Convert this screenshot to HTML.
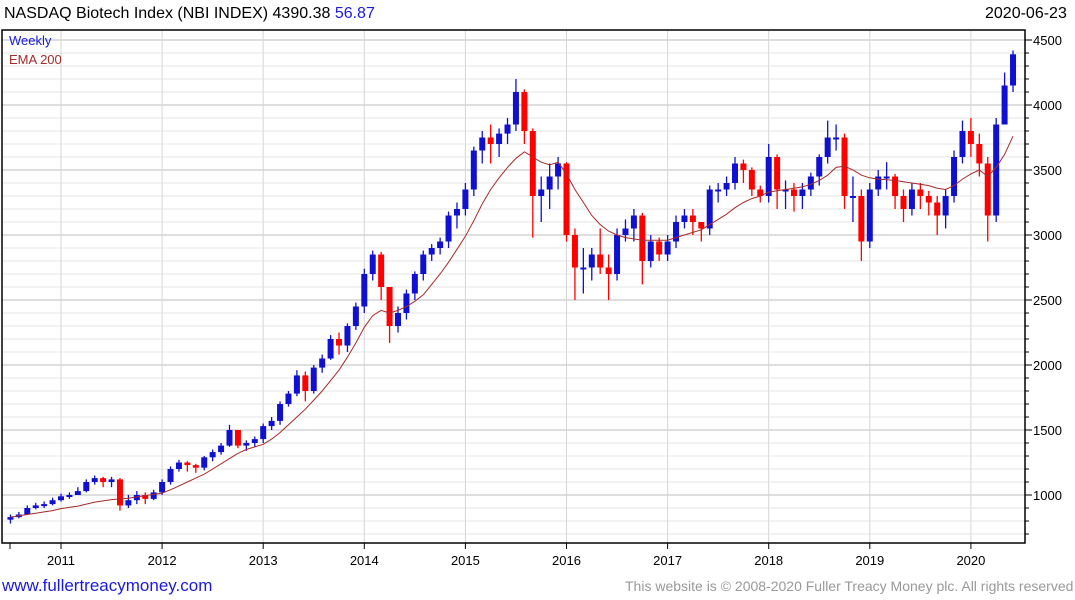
<!DOCTYPE html>
<html><head><meta charset="utf-8">
<style>
body{margin:0;background:#fff;font-family:"Liberation Sans",sans-serif;}
#wrap{position:relative;width:1075px;height:600px;overflow:hidden;}
.t{position:absolute;white-space:nowrap;}
</style></head>
<body>
<div id="wrap">
<div class="t" style="left:4px;top:5px;font-size:16px;color:#000">NASDAQ Biotech Index (NBI INDEX) 4390.38 <span style="color:#1a1adf">56.87</span></div>
<div class="t" style="left:985px;top:5px;font-size:16px;color:#000">2020-06-23</div>
<div class="t" style="left:2px;top:576px;font-size:17px;color:#1a1adf">www.fullertreacymoney.com</div>
<div class="t" style="left:625px;top:578px;font-size:14px;color:#999">This website is © 2008-2020 Fuller Treacy Money plc. All rights reserved</div>
<svg id="chart" width="1075" height="600" style="position:absolute;left:0;top:0"></svg>
</div>
<script>
const years=["2011","2012","2013","2014","2015","2016","2017","2018","2019","2020"];
const yTicks=[1000,1500,2000,2500,3000,3500,4000,4500];
const closes=[830,850,900,920,930,960,
990,1000,1030,1100,1130,1100,1120,920,960,1000,970,1020,
1100,1200,1250,1230,1210,1290,1330,1380,1500,1380,1400,1430,
1530,1570,1700,1780,1920,1800,1980,2050,2200,2150,2300,2450,
2700,2850,2600,2300,2400,2550,2700,2850,2900,2950,3150,3200,
3350,3650,3750,3700,3780,3850,4100,3800,3300,3350,3450,3550,
3000,2750,2750,2850,2750,2700,3000,3050,3150,2800,2950,2850,
2950,3100,3150,3100,3050,3350,3350,3400,3550,3500,3350,3300,
3600,3350,3350,3300,3350,3450,3600,3750,3750,3300,3300,2950,
3350,3450,3450,3300,3200,3350,3300,3250,3150,3300,3600,3800,
3700,3550,3150,3850,4150,4390];
const highs=[850,870,920,940,950,980,
1010,1020,1060,1120,1150,1140,1140,1130,1000,1030,1020,1040,
1120,1220,1270,1260,1240,1300,1350,1400,1540,1500,1420,1450,
1550,1600,1720,1800,1960,1950,2000,2080,2230,2250,2320,2480,
2740,2880,2870,2500,2450,2580,2720,2880,2930,2980,3180,3250,
3400,3680,3800,3850,3820,3900,4200,4120,3820,3450,3550,3600,
3560,3050,2900,2900,3050,2850,3050,3120,3200,3170,3000,2980,
3000,3150,3200,3200,3100,3380,3400,3450,3600,3580,3520,3380,
3700,3620,3420,3400,3400,3480,3620,3880,3850,3780,3450,3350,
3400,3500,3560,3470,3350,3400,3400,3340,3300,3350,3650,3880,
3900,3780,3600,3900,4250,4420];
const lows=[780,820,860,890,900,920,
950,970,1000,1020,1080,1060,1060,880,900,930,930,960,
1000,1080,1180,1180,1170,1190,1260,1310,1370,1360,1340,1370,
1400,1500,1540,1680,1760,1720,1780,1940,2040,2080,2100,2270,
2400,2650,2500,2170,2250,2350,2500,2650,2800,2850,2900,3050,
3150,3300,3550,3550,3600,3700,3800,3700,2980,3100,3200,3350,
2950,2500,2550,2650,2700,2500,2650,2950,2950,2620,2750,2800,
2800,2900,3050,3000,2950,3000,3250,3300,3350,3400,3300,3250,
3250,3200,3200,3180,3200,3300,3380,3550,3650,3200,3100,2800,
2900,3300,3350,3200,3100,3150,3200,3150,3000,3050,3250,3550,
3600,3450,2950,3100,3850,4100];
const ema=[830,840,850,860,870,880,
895,905,915,930,945,955,965,970,975,985,995,1005,
1015,1040,1070,1100,1130,1160,1200,1240,1280,1320,1350,1370,
1390,1430,1480,1540,1600,1660,1730,1800,1880,1960,2060,2170,
2290,2380,2420,2400,2420,2450,2490,2540,2620,2700,2790,2890,
2990,3110,3240,3350,3440,3520,3590,3640,3600,3560,3540,3560,
3470,3350,3250,3150,3080,3030,3000,2980,2970,2960,2960,2960,
2960,2980,3000,3020,3040,3080,3120,3160,3210,3250,3280,3300,
3330,3340,3350,3360,3370,3390,3420,3460,3520,3530,3500,3460,
3440,3430,3425,3420,3410,3400,3390,3380,3360,3350,3380,3430,
3470,3500,3450,3520,3620,3760];
const L=2,R=1025,T=30,B=543;
const X0=61,YW=101.1;
function xMonth(i){return X0+(i-6)*YW/12;}
function yVal(v){return 495-(v-1000)*65/500;}
const svg=document.getElementById('chart');
const NS='http://www.w3.org/2000/svg';
function mk(tag,attrs){const e=document.createElementNS(NS,tag);for(const k in attrs)e.setAttribute(k,attrs[k]);svg.appendChild(e);return e;}
for(let v=700;v<=4600;v+=100){const y=yVal(v);if(y<T||y>B)continue;
const g=mk('line',{x1:L,x2:R,y1:y,y2:y,stroke:v%500===0?'#bdbdbd':'#e6e6e6','stroke-width':1});


const tk=mk('line',{x1:R,x2:R+(v%500===0?7:4),y1:y,y2:y,stroke:'#000'});

}
years.forEach((yr,k)=>{const x=X0+k*YW;
const g=mk('line',{x1:x,x2:x,y1:T,y2:B,stroke:'#d6d6d6'});


const tk=mk('line',{x1:x,x2:x,y1:B,y2:B+6,stroke:'#000'});


const t=mk('text',{x:x,y:565,'font-size':13,'text-anchor':'middle','font-family':'Liberation Sans, sans-serif'});
t.textContent=yr;

});
{const tk=mk('line',{x1:10,x2:10,y1:B,y2:B+6,stroke:'#000'});

}
yTicks.forEach(v=>{const t=mk('text',{x:1033,y:yVal(v)+5,'font-size':13,'font-family':'Liberation Sans, sans-serif'});
t.textContent=v;

});
closes.forEach((c,i)=>{const o=i===0?c-20:closes[i-1];const x=xMonth(i);
const col=c>=o?'#1010d0':'#ff0000';
const w=mk('line',{x1:x,x2:x,y1:yVal(highs[i]),y2:yVal(lows[i]),stroke:col,'stroke-width':1.3});


const y1=yVal(Math.max(o,c)),y2=yVal(Math.min(o,c));
const r=mk('rect',{x:x-3,y:y1,width:6,height:Math.max(2,y2-y1),fill:col});

});
const pts=ema.map((v,i)=>xMonth(i).toFixed(1)+','+yVal(v).toFixed(1)).join(' ');
const el=mk('polyline',{points:pts,fill:'none',stroke:'#a52a2a','stroke-width':1});


const fr=mk('rect',{x:L,y:T,width:R-L,height:B-T,fill:'none',stroke:'#000','stroke-width':1.5});


const lg1=mk('text',{x:9,y:45,'font-size':13,fill:'#1a1adf','font-family':'Liberation Sans, sans-serif'});lg1.textContent='Weekly';


const lg2=mk('text',{x:9,y:64,'font-size':13,fill:'#a52a2a','font-family':'Liberation Sans, sans-serif'});lg2.textContent='EMA 200';


</script>
</body></html>
